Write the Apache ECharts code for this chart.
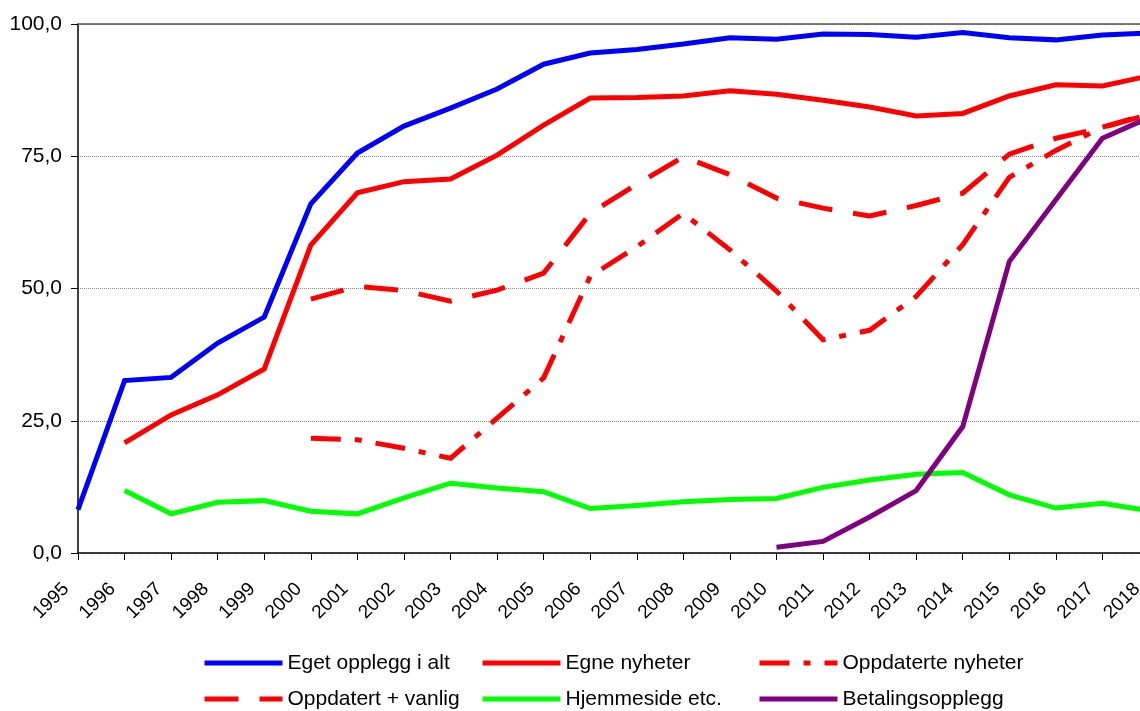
<!DOCTYPE html>
<html>
<head>
<meta charset="utf-8">
<script src="https://cdn.jsdelivr.net/npm/echarts@6/dist/echarts.min.js"></script>
<style>
html,body{margin:0;padding:0;background:#fff;overflow:hidden;width:1140px;height:711px;}
#chart{width:1160px;height:711px;}
</style>
</head>
<body>
<div id="chart"></div>
<script>
const years = ['1995','1996','1997','1998','1999','2000','2001','2002','2003','2004','2005','2006','2007','2008','2009','2010','2011','2012','2013','2014','2015','2016','2017','2018'];
const egetOpplegg = [8.2,32.6,33.2,39.7,44.6,66.0,75.6,80.7,84.1,87.7,92.4,94.5,95.2,96.2,97.4,97.1,98.1,98.0,97.5,98.4,97.4,97.0,97.9,98.3];
const egneNyheter = [null,20.8,26.1,29.9,34.8,58.2,68.1,70.2,70.7,75.2,80.9,86.0,86.1,86.4,87.4,86.7,85.6,84.3,82.6,83.1,86.4,88.5,88.3,90.2];
const oppdaterteNyheter = [null,null,null,null,null,21.7,21.4,19.8,17.9,25.5,33.1,52.3,57.9,64.2,57.3,49.5,40.3,42.1,48.5,58.3,71.0,76.1,80.5,83.0];
const oppdatertVanlig = [null,null,null,null,null,48.0,50.4,49.6,47.6,49.7,52.9,64.2,69.7,74.9,71.5,67.1,65.2,63.7,65.7,68.0,75.4,78.4,80.4,82.9];
const hjemmeside = [null,11.8,7.4,9.6,9.9,7.9,7.4,10.4,13.2,12.3,11.6,8.4,9.0,9.7,10.1,10.3,12.4,13.8,14.9,15.2,11.0,8.5,9.4,8.0];
const betaling = [null,null,null,null,null,null,null,null,null,null,null,null,null,null,null,1.1,2.2,6.8,11.8,23.9,55.1,66.8,78.4,82.3];
const yTicks = [0,25,50,75,100];

const names = ['Eget opplegg i alt','Egne nyheter','Oppdaterte nyheter','Oppdatert + vanlig','Hjemmeside etc.','Betalingsopplegg'];

function mk(name, data, color, type, z){
  return {name:name, type:'line', data:data, showSymbol:false, symbol:'none', z:z,
    lineStyle:{color:color, width:5, type:type, join:'miter', cap:'butt'},
    itemStyle:{color:color}, connectNulls:false, animation:false};
}

const font = 'Liberation Sans, Arial, sans-serif';
const legendBase = {
  orient:'vertical', top:652, itemWidth:78, itemHeight:5, itemGap:14,
  itemStyle:{opacity:0, borderWidth:0},
  lineStyle:{width:5},
  textStyle:{fontFamily:font, fontSize:21, color:'#000', lineHeight:22},
  padding:0
};

const chart = echarts.init(document.getElementById('chart'));
chart.setOption({
  backgroundColor:'#fff',
  animation:false,
  grid:{left:78, right:11, top:24, bottom:158, containLabel:false},
  legend:[
    Object.assign({}, legendBase, {left:202, data:[names[0], names[3]]}),
    Object.assign({}, legendBase, {left:480, data:[names[1], names[4]]}),
    Object.assign({}, legendBase, {left:757, data:[names[2], names[5]]})
  ],
  xAxis:[{
    type:'category', data:years, boundaryGap:false,
    axisLine:{show:true, lineStyle:{color:'#000', width:1.5}},
    axisTick:{show:true, alignWithLabel:true, length:7, lineStyle:{color:'#000', width:1}},
    axisLabel:{rotate:45, margin:21, padding:[0,17,0,0], fontFamily:font, fontSize:19, color:'#000', interval:0},
    splitLine:{show:false}
  },{
    type:'category', data:years, boundaryGap:false, position:'top',
    axisLine:{show:true, lineStyle:{color:'#555', width:1.5}},
    axisTick:{show:false}, axisLabel:{show:false}, splitLine:{show:false}
  }],
  yAxis:{
    type:'value', min:0, max:100, interval:25,
    axisLine:{show:true, lineStyle:{color:'#000', width:1.5}},
    axisTick:{show:true, length:7, lineStyle:{color:'#000', width:1}},
    axisLabel:{margin:16, fontFamily:font, fontSize:21, color:'#000',
      formatter:function(v){ return yTicks.indexOf(v) >= 0 ? v.toFixed(1).replace('.', ',') : ''; }},
    splitLine:{show:true, lineStyle:{color:'#8a8a8a', type:'dotted', width:1}}
  },
  series:[
    mk(names[0], egetOpplegg, '#0000ff', 'solid', 6),
    mk(names[1], egneNyheter, '#ff0000', 'solid', 5),
    mk(names[2], oppdaterteNyheter, '#ff0000', [30,14,7,14], 4),
    mk(names[3], oppdatertVanlig, '#ff0000', [34,21], 3),
    mk(names[4], hjemmeside, '#00ff00', 'solid', 2),
    mk(names[5], betaling, '#800080', 'solid', 7)
  ]
});
</script>
</body>
</html>
